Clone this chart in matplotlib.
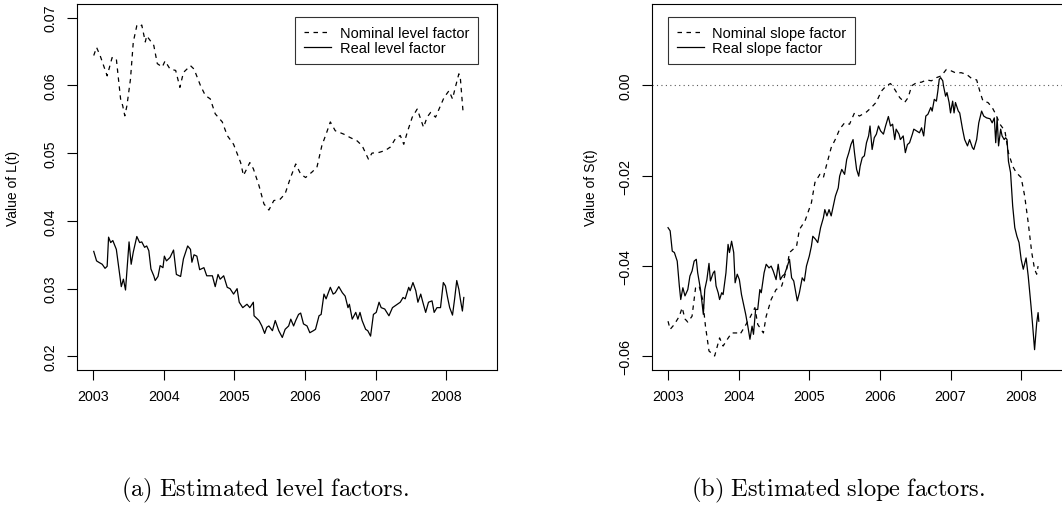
import numpy as np
import matplotlib.pyplot as plt

plt.rcParams['font.family'] = ['Liberation Sans', 'DejaVu Sans']
plt.rcParams['mathtext.fontset'] = 'cm'

# level factors (decimal years)
t_nom_level = [2003.01, 2003.05, 2003.10, 2003.20, 2003.27, 2003.33, 2003.39, 2003.42, 2003.45, 2003.48,
               2003.53, 2003.57, 2003.62, 2003.66, 2003.69, 2003.74, 2003.76, 2003.86, 2003.91, 2003.98,
               2004.02, 2004.09, 2004.17, 2004.23, 2004.28, 2004.38, 2004.43, 2004.52, 2004.59, 2004.66,
               2004.73, 2004.83, 2004.90, 2004.99, 2005.09, 2005.13, 2005.22, 2005.27, 2005.35, 2005.42,
               2005.49, 2005.56, 2005.65, 2005.72, 2005.79, 2005.87, 2005.94, 2006.01, 2006.10, 2006.17,
               2006.24, 2006.31, 2006.36, 2006.43, 2006.55, 2006.64, 2006.74, 2006.81, 2006.90, 2006.95,
               2007.05, 2007.14, 2007.21, 2007.28, 2007.35, 2007.40, 2007.45, 2007.52, 2007.59, 2007.64,
               2007.68, 2007.73, 2007.78, 2007.85, 2007.92, 2007.97, 2008.04, 2008.09, 2008.13, 2008.18,
               2008.20, 2008.24]
nom_level = [0.0644, 0.0656, 0.0644, 0.0614, 0.0641, 0.0639, 0.0580, 0.0570, 0.0555, 0.0570,
             0.0609, 0.0664, 0.0688, 0.0686, 0.0689, 0.0664, 0.0673, 0.0659, 0.0632, 0.0627,
             0.0636, 0.0624, 0.0622, 0.0597, 0.0619, 0.0629, 0.0624, 0.0600, 0.0585, 0.0580,
             0.0558, 0.0546, 0.0526, 0.0513, 0.0486, 0.0467, 0.0486, 0.0477, 0.0452, 0.0425,
             0.0416, 0.0430, 0.0432, 0.0440, 0.0462, 0.0484, 0.0469, 0.0464, 0.0472, 0.0479,
             0.0511, 0.0531, 0.0546, 0.0533, 0.0528, 0.0523, 0.0518, 0.0511, 0.0491, 0.0500,
             0.0501, 0.0504, 0.0509, 0.0521, 0.0526, 0.0513, 0.0531, 0.0553, 0.0565, 0.0550,
             0.0538, 0.0553, 0.0560, 0.0553, 0.0570, 0.0582, 0.0592, 0.0580, 0.0597, 0.0617,
             0.0612, 0.0560]

t_real_level = [2003.01, 2003.05, 2003.08, 2003.13, 2003.17, 2003.20, 2003.22, 2003.25, 2003.28, 2003.33,
                2003.36, 2003.40, 2003.43, 2003.46, 2003.51, 2003.54, 2003.57, 2003.60, 2003.62, 2003.66,
                2003.69, 2003.73, 2003.76, 2003.79, 2003.82, 2003.86, 2003.88, 2003.92, 2003.95, 2003.99,
                2004.01, 2004.04, 2004.09, 2004.14, 2004.18, 2004.24, 2004.28, 2004.34, 2004.38, 2004.40,
                2004.43, 2004.47, 2004.51, 2004.57, 2004.61, 2004.69, 2004.73, 2004.77, 2004.80, 2004.85,
                2004.90, 2004.94, 2004.99, 2005.04, 2005.07, 2005.12, 2005.18, 2005.22, 2005.27, 2005.28,
                2005.35, 2005.39, 2005.43, 2005.46, 2005.49, 2005.54, 2005.58, 2005.63, 2005.68, 2005.72,
                2005.77, 2005.80, 2005.84, 2005.87, 2005.91, 2005.94, 2005.98, 2006.03, 2006.07, 2006.12,
                2006.15, 2006.20, 2006.23, 2006.27, 2006.30, 2006.36, 2006.40, 2006.43, 2006.48, 2006.53,
                2006.57, 2006.61, 2006.63, 2006.67, 2006.72, 2006.75, 2006.78, 2006.81, 2006.86, 2006.89,
                2006.93, 2006.97, 2007.01, 2007.05, 2007.08, 2007.13, 2007.19, 2007.24, 2007.31, 2007.35,
                2007.39, 2007.42, 2007.47, 2007.49, 2007.53, 2007.57, 2007.60, 2007.64, 2007.67, 2007.71,
                2007.75, 2007.80, 2007.83, 2007.87, 2007.92, 2007.96, 2007.99, 2008.02, 2008.05, 2008.09,
                2008.12, 2008.15, 2008.18, 2008.20, 2008.23, 2008.25]
real_level = [0.0355, 0.0341, 0.0339, 0.0336, 0.0330, 0.0333, 0.0376, 0.0368, 0.0371, 0.0358,
              0.0334, 0.0303, 0.0314, 0.0298, 0.0369, 0.0336, 0.0354, 0.0368, 0.0377, 0.0368,
              0.0369, 0.0361, 0.0363, 0.0356, 0.0329, 0.0319, 0.0312, 0.0318, 0.0334, 0.0331,
              0.0348, 0.0341, 0.0346, 0.0357, 0.0321, 0.0318, 0.0344, 0.0363, 0.0358, 0.0339,
              0.0350, 0.0348, 0.0328, 0.0331, 0.0319, 0.0319, 0.0303, 0.0321, 0.0314, 0.0319,
              0.0302, 0.0300, 0.0292, 0.0300, 0.0280, 0.0272, 0.0277, 0.0272, 0.0280, 0.0260,
              0.0253, 0.0245, 0.0234, 0.0243, 0.0245, 0.0238, 0.0253, 0.0238, 0.0228, 0.0240,
              0.0245, 0.0255, 0.0245, 0.0253, 0.0262, 0.0264, 0.0248, 0.0245, 0.0235, 0.0238,
              0.0240, 0.0260, 0.0262, 0.0292, 0.0285, 0.0302, 0.0292, 0.0294, 0.0303, 0.0294,
              0.0289, 0.0272, 0.0277, 0.0255, 0.0265, 0.0255, 0.0265, 0.0253, 0.0240, 0.0238,
              0.0230, 0.0262, 0.0265, 0.0280, 0.0272, 0.0270, 0.0260, 0.0272, 0.0277, 0.0280,
              0.0287, 0.0285, 0.0302, 0.0297, 0.0309, 0.0297, 0.0280, 0.0292, 0.0280, 0.0265,
              0.0280, 0.0282, 0.0265, 0.0272, 0.0272, 0.0309, 0.0304, 0.0287, 0.0272, 0.0261,
              0.0285, 0.0312, 0.0299, 0.0285, 0.0267, 0.0287]

# slope factors
t_nom_slope = [2003.00, 2003.03, 2003.09, 2003.16, 2003.20, 2003.24, 2003.28, 2003.34, 2003.39, 2003.44,
               2003.49, 2003.53, 2003.58, 2003.61, 2003.66, 2003.73, 2003.78, 2003.84, 2003.90, 2003.99,
               2004.02, 2004.09, 2004.16, 2004.23, 2004.27, 2004.35, 2004.39, 2004.46, 2004.53, 2004.61,
               2004.68, 2004.72, 2004.82, 2004.86, 2004.94, 2004.98, 2005.03, 2005.08, 2005.15, 2005.20,
               2005.24, 2005.31, 2005.38, 2005.43, 2005.50, 2005.57, 2005.64, 2005.71, 2005.81, 2005.88,
               2005.95, 2006.02, 2006.09, 2006.15, 2006.21, 2006.28, 2006.35, 2006.40, 2006.45, 2006.52,
               2006.59, 2006.66, 2006.73, 2006.80, 2006.87, 2006.94, 2007.01, 2007.08, 2007.15, 2007.23,
               2007.30, 2007.37, 2007.42, 2007.46, 2007.53, 2007.59, 2007.64, 2007.70, 2007.77, 2007.82,
               2007.88, 2007.93, 2008.00, 2008.05, 2008.10, 2008.15, 2008.19, 2008.22, 2008.24]
nom_slope = [-0.0522, -0.0540, -0.0529, -0.0511, -0.0492, -0.0517, -0.0524, -0.0511, -0.0448, -0.0444,
             -0.0474, -0.0533, -0.0588, -0.0592, -0.0599, -0.0559, -0.0577, -0.0562, -0.0548, -0.0548,
             -0.0551, -0.0533, -0.0514, -0.0492, -0.0529, -0.0548, -0.0511, -0.0474, -0.0452, -0.0444,
             -0.0407, -0.0370, -0.0356, -0.0319, -0.0300, -0.0282, -0.0260, -0.0215, -0.0197, -0.0204,
             -0.0179, -0.0138, -0.0116, -0.0097, -0.0083, -0.0086, -0.0061, -0.0068, -0.0059, -0.0049,
             -0.0037, -0.0013, -0.0001, 0.0004, -0.0009, -0.0027, -0.0038, -0.0027, -0.0001, 0.0006,
             0.0007, 0.0012, 0.0010, 0.0017, 0.0021, 0.0035, 0.0032, 0.0027, 0.0028, 0.0024,
             0.0015, 0.0012, -0.0016, -0.0035, -0.0038, -0.0049, -0.0064, -0.0086, -0.0101, -0.0149,
             -0.0179, -0.0193, -0.0204, -0.0245, -0.0304, -0.0370, -0.0407, -0.0418, -0.0400]

t_real_slope = [2003.00, 2003.03, 2003.06, 2003.09, 2003.13, 2003.16, 2003.18, 2003.21, 2003.24, 2003.28,
                2003.31, 2003.34, 2003.37, 2003.40, 2003.42, 2003.46, 2003.50, 2003.52, 2003.55, 2003.58,
                2003.60, 2003.64, 2003.66, 2003.68, 2003.71, 2003.73, 2003.76, 2003.78, 2003.82, 2003.85,
                2003.87, 2003.90, 2003.93, 2003.95, 2003.98, 2004.01, 2004.04, 2004.07, 2004.10, 2004.13,
                2004.16, 2004.19, 2004.21, 2004.24, 2004.27, 2004.30, 2004.32, 2004.36, 2004.39, 2004.43,
                2004.46, 2004.49, 2004.53, 2004.56, 2004.59, 2004.62, 2004.65, 2004.69, 2004.72, 2004.75,
                2004.78, 2004.81, 2004.83, 2004.86, 2004.90, 2004.93, 2004.96, 2005.00, 2005.03, 2005.05,
                2005.09, 2005.12, 2005.16, 2005.20, 2005.22, 2005.25, 2005.28, 2005.31, 2005.34, 2005.37,
                2005.41, 2005.43, 2005.46, 2005.50, 2005.53, 2005.56, 2005.59, 2005.62, 2005.64, 2005.67,
                2005.70, 2005.72, 2005.75, 2005.78, 2005.81, 2005.84, 2005.86, 2005.89, 2005.92, 2005.95,
                2005.98, 2006.01, 2006.05, 2006.08, 2006.12, 2006.15, 2006.18, 2006.21, 2006.23, 2006.27,
                2006.29, 2006.33, 2006.36, 2006.39, 2006.42, 2006.46, 2006.48, 2006.52, 2006.56, 2006.59,
                2006.62, 2006.65, 2006.68, 2006.72, 2006.74, 2006.77, 2006.80, 2006.82, 2006.84, 2006.86,
                2006.89, 2006.90, 2006.93, 2006.95, 2006.98, 2007.00, 2007.03, 2007.05, 2007.07, 2007.11,
                2007.13, 2007.17, 2007.20, 2007.24, 2007.27, 2007.31, 2007.33, 2007.37, 2007.40, 2007.44,
                2007.47, 2007.51, 2007.56, 2007.59, 2007.62, 2007.64, 2007.66, 2007.68, 2007.71, 2007.73,
                2007.76, 2007.78, 2007.80, 2007.82, 2007.85, 2007.88, 2007.91, 2007.94, 2007.97, 2008.00,
                2008.03, 2008.07, 2008.10, 2008.14, 2008.16, 2008.19, 2008.22, 2008.24, 2008.25]
real_slope = [-0.0315, -0.0322, -0.0367, -0.0370, -0.0389, -0.0444, -0.0474, -0.0448, -0.0466, -0.0452,
              -0.0422, -0.0411, -0.0389, -0.0385, -0.0415, -0.0452, -0.0507, -0.0452, -0.0430, -0.0394,
              -0.0433, -0.0415, -0.0411, -0.0444, -0.0459, -0.0474, -0.0459, -0.0463, -0.0415, -0.0352,
              -0.0370, -0.0345, -0.0370, -0.0437, -0.0418, -0.0430, -0.0463, -0.0485, -0.0507, -0.0533,
              -0.0562, -0.0533, -0.0551, -0.0496, -0.0496, -0.0452, -0.0459, -0.0415, -0.0396, -0.0404,
              -0.0400, -0.0411, -0.0430, -0.0396, -0.0430, -0.0422, -0.0418, -0.0400, -0.0385, -0.0426,
              -0.0433, -0.0459, -0.0477, -0.0459, -0.0426, -0.0433, -0.0400, -0.0378, -0.0356, -0.0334,
              -0.0341, -0.0348, -0.0315, -0.0293, -0.0275, -0.0289, -0.0275, -0.0289, -0.0267, -0.0245,
              -0.0227, -0.0201, -0.0186, -0.0197, -0.0164, -0.0149, -0.0131, -0.0120, -0.0149, -0.0186,
              -0.0201, -0.0179, -0.0160, -0.0156, -0.0127, -0.0112, -0.0090, -0.0142, -0.0116, -0.0108,
              -0.0090, -0.0101, -0.0108, -0.0090, -0.0069, -0.0090, -0.0086, -0.0120, -0.0097, -0.0108,
              -0.0120, -0.0112, -0.0149, -0.0131, -0.0127, -0.0108, -0.0097, -0.0101, -0.0105, -0.0094,
              -0.0112, -0.0068, -0.0064, -0.0049, -0.0057, -0.0031, -0.0035, -0.0013, 0.0013, 0.0017,
              0.0010, -0.0001, -0.0024, -0.0016, -0.0038, -0.0061, -0.0035, -0.0061, -0.0038, -0.0057,
              -0.0061, -0.0097, -0.0120, -0.0134, -0.0120, -0.0138, -0.0142, -0.0120, -0.0083, -0.0057,
              -0.0068, -0.0072, -0.0074, -0.0083, -0.0072, -0.0127, -0.0072, -0.0134, -0.0097, -0.0112,
              -0.0120, -0.0116, -0.0120, -0.0168, -0.0193, -0.0267, -0.0315, -0.0334, -0.0348, -0.0385,
              -0.0407, -0.0382, -0.0422, -0.0489, -0.0526, -0.0585, -0.0526, -0.0503, -0.0522]

years = [2003, 2004, 2005, 2006, 2007, 2008]

fig = plt.figure(figsize=(10.62, 5.06), dpi=100)
W, H = 1062.0, 506.0
ax1 = fig.add_axes([77 / W, 1 - 371 / H, 420 / W, 366 / H])
ax2 = fig.add_axes([652 / W, 1 - 371 / H, 420 / W, 366 / H])

dash = dict(color="black", lw=0.9, dashes=(3.6, 3.6))
solid = dict(color="black", lw=0.9)

ax1.plot(t_nom_level, nom_level, label="Nominal level factor", **dash)
ax1.plot(t_real_level, real_level, label="Real level factor", **solid)
ax1.set_ylim(0.0180, 0.0720)
ax1.set_yticks([0.02, 0.03, 0.04, 0.05, 0.06, 0.07])
ax1.set_yticklabels(["0.02", "0.03", "0.04", "0.05", "0.06", "0.07"])
ax1.set_ylabel("Value of L(t)", fontsize=10)
ax1.yaxis.set_label_coords(-0.136, 0.5)

ax2.axhline(0, color="0.35", lw=0.8, linestyle=(0, (1, 3)))
ax2.plot(t_nom_slope, nom_slope, label="Nominal slope factor", **dash)
ax2.plot(t_real_slope, real_slope, label="Real slope factor", **solid)
ax2.set_ylim(-0.0630, 0.0180)
ax2.set_yticks([-0.06, -0.04, -0.02, 0.0])
ax2.set_yticklabels(["\u22120.06", "\u22120.04", "\u22120.02", "0.00"])
ax2.set_ylabel("Value of S(t)", fontsize=10)
ax2.yaxis.set_label_coords(-0.129, 0.5)

for ax in (ax1, ax2):
    ax.set_xlim(2002.773, 2008.72)
    ax.set_xticks(years)
    ax.set_xticklabels([str(y) for y in years])
    ax.tick_params(direction="out", length=7, width=0.8, labelsize=10.3, pad=7)
    ax.tick_params(axis="y", labelrotation=90)
    for lab in ax.get_yticklabels():
        lab.set_va("center")
    for s in ax.spines.values():
        s.set_linewidth(0.8)

leg1 = ax1.legend(loc="upper right", bbox_to_anchor=(0.955, 0.9645), borderaxespad=0,
                  fancybox=False, edgecolor="black", fontsize=10.5, handlelength=1.85,
                  handletextpad=0.6, borderpad=0.6, labelspacing=0.12)
leg2 = ax2.legend(loc="upper left", bbox_to_anchor=(0.038, 0.9645), borderaxespad=0,
                  fancybox=False, edgecolor="black", fontsize=10.5, handlelength=1.85,
                  handletextpad=0.6, borderpad=0.6, labelspacing=0.12)
for leg in (leg1, leg2):
    leg.get_frame().set_linewidth(0.8)

# captions under each panel
fig.text(265 / W, 1 - 490 / H, r"$\mathrm{(a)\ Estimated\ level\ factors.}$",
         ha="center", va="center", fontsize=17.6)
fig.text(838 / W, 1 - 490 / H, r"$\mathrm{(b)\ Estimated\ slope\ factors.}$",
         ha="center", va="center", fontsize=17.6)

fig.savefig("out.png", dpi=100)
